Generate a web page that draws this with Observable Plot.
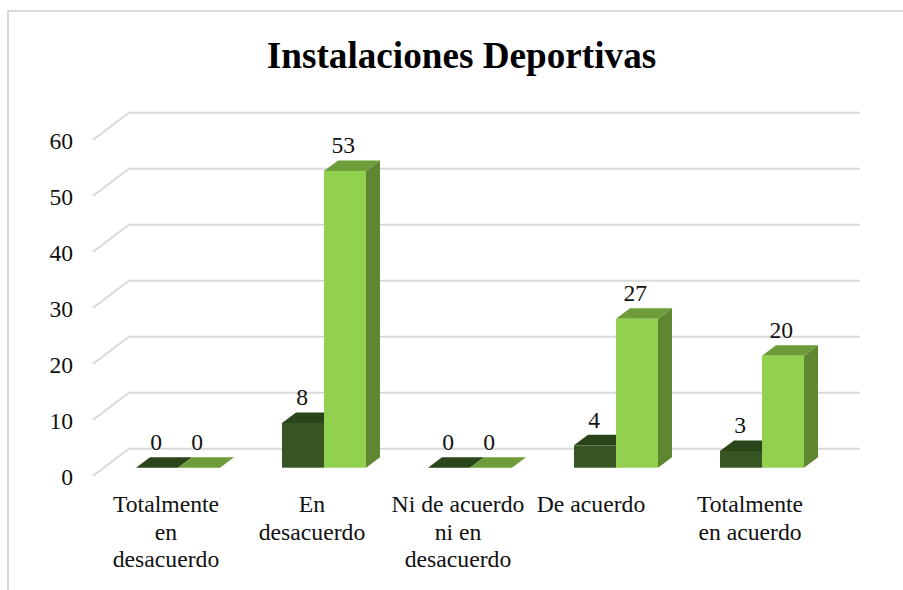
<!DOCTYPE html>
<html>
<head>
<meta charset="utf-8">
<script src="https://cdn.jsdelivr.net/npm/d3@7"></script>
<script src="https://cdn.jsdelivr.net/npm/@observablehq/plot@0.6"></script>
<style>
html,body{margin:0;padding:0;background:#fff;overflow:hidden}
svg{display:block}
</style>
</head>
<body>
<div id="chart"></div>
<script>
const chartTitle = "Instalaciones Deportivas";
const categories = ["Totalmente en desacuerdo", "En desacuerdo", "Ni de acuerdo ni en desacuerdo", "De acuerdo", "Totalmente en acuerdo"];
const categoryLabels = ["Totalmente\nen\ndesacuerdo", "En\ndesacuerdo", "Ni de acuerdo\nni en\ndesacuerdo", "De acuerdo", "Totalmente\nen acuerdo"];
const darkValues = [0, 8, 0, 4, 3];
const lightValues = [0, 53, 0, 26.6, 20];
const yTicks = [0, 10, 20, 30, 40, 50, 60];

const font = "Liberation Serif";
const depthX = 14, depthY = 10.5;
const gridColor = "#d9d9d9";
const dark = {front: "#375623", top: "#2b451b", side: "#2b451b"};
const light = {front: "#92d050", top: "#6e9c3a", side: "#5f8630"};
const rows = (values) => categories.map((c, i) => ({category: c, label: categoryLabels[i], value: values[i]}));
const darkRows = rows(darkValues), lightRows = rows(lightValues);
const labelRows = rows(darkValues);

// Chart frame and the receding gridlines of the 3-D walls
const backdrop = (index, scales) => {
  const g = d3.create("svg:g");
  g.append("path").attr("fill", "none").attr("stroke", gridColor).attr("stroke-width", 2)
    .attr("d", "M8,700V11H1000");
  for (const t of yTicks) {
    const y = scales.y(t);
    g.append("path").attr("fill", "none").attr("stroke", gridColor).attr("stroke-width", 2)
      .attr("d", `M93,${y + 8}L129,${y - 19}H860`);
  }
  return g.node();
};

// Side and top faces of a bar (half: 0 = left half of the band, 1 = right half)
const faces = (data, half, colors) => (index, scales) => {
  const g = d3.create("svg:g");
  const bw = scales.x.bandwidth() / 2;
  for (const d of data) {
    const x0 = scales.x(d.category) + half * bw, x1 = x0 + bw;
    const y0 = scales.y(0), y1 = scales.y(d.value);
    g.append("path").attr("fill", colors.side)
      .attr("d", `M${x1},${y0}L${x1 + depthX},${y0 - depthY}V${y1 - depthY}L${x1},${y1}Z`);
    g.append("path").attr("fill", colors.top)
      .attr("d", `M${x0},${y1}L${x0 + depthX},${y1 - depthY}H${x1 + depthX}L${x1},${y1}Z`);
  }
  return g.node();
};

const bar = (data, color, inset) => Plot.barY(data, {
  x: "category", y: "value", fill: color, ...inset
});
const valueLabels = (data, shift) => Plot.text(data, {
  x: "category", y: "value", text: d => String(Math.round(d.value)), dx: shift, dy: -25.5,
  fontFamily: font, fontSize: 23.6, fill: "#111"
});
const xLabels = (filter, shift) => Plot.text(labelRows.filter(filter), {
  x: "category", text: "label", frameAnchor: "top", dy: 492, dx: shift,
  lineAnchor: "top", lineHeight: 1.16, fontFamily: font, fontSize: 23.7, fill: "#111"
});

const plot = Plot.plot({
  width: 903, height: 590,
  marginLeft: 0, marginRight: 0, marginTop: 0, marginBottom: 0,
  style: {background: "#fff", fontFamily: font},
  x: {domain: categories, range: [104.5, 835.7], paddingInner: 0.426, paddingOuter: 0.213, axis: null},
  y: {domain: [0, 60], range: [467.7, 131.7], axis: null},
  marks: [
    backdrop,
    faces(darkRows, 0, dark),
    bar(darkRows, dark.front, {insetRight: 42}),
    faces(lightRows, 1, light),
    bar(lightRows, light.front, {insetLeft: 42}),
    valueLabels(darkRows, -22.3),
    valueLabels(lightRows, 18.7),
    Plot.text(yTicks, {
      y: d => d, text: d => String(d), frameAnchor: "left", dx: 72.5, dy: 9,
      textAnchor: "end", fontFamily: font, fontSize: 23.6, fill: "#111"
    }),
    xLabels(d => d.label !== "De acuerdo", -12.5),
    xLabels(d => d.label === "De acuerdo", -25.5),
    Plot.text([chartTitle], {
      frameAnchor: "top", dx: 9.5, dy: 41, lineAnchor: "top", text: d => d,
      fontFamily: font, fontSize: 37.2, fontWeight: "bold", fill: "#000"
    })
  ]
});
document.getElementById("chart").appendChild(plot);
</script>
</body>
</html>
